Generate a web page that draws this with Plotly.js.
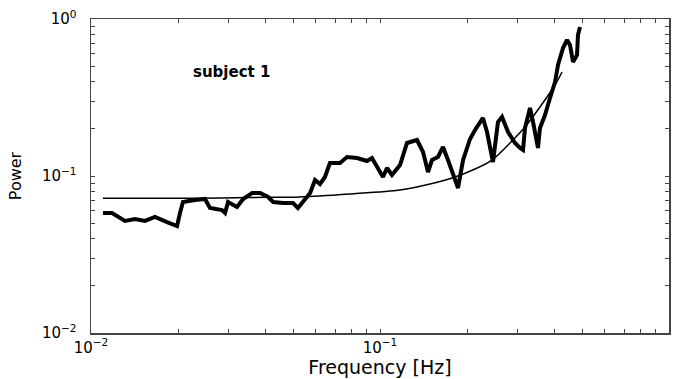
<!DOCTYPE html>
<html>
<head>
<meta charset="utf-8">
<script src="https://cdn.plot.ly/plotly-3.0.1.min.js"></script>
<style>html,body{margin:0;padding:0;background:#fff;}#chart{width:680px;height:379px;}</style>
</head>
<body>
<div id="chart"></div>
<script>
// Measured spectrum (thick line)
const freqMeasured = [0.0110,0.01182,0.01311,0.0142,0.01538,0.01665,0.01832,0.01985,0.02032,0.02081,0.0229,0.0248,0.02581,0.0284,0.0291,0.0298,0.0320,0.0336,0.0361,0.0385,0.0410,0.0427,0.0462,0.0500,0.0520,0.0542,0.0573,0.0596,0.0620,0.0645,0.0671,0.0727,0.0769,0.0833,0.0902,0.0938,0.0976,0.1024,0.1057,0.1100,0.1173,0.1240,0.1343,0.1409,0.1466,0.1513,0.1587,0.1652,0.1719,0.1788,0.1862,0.1938,0.2049,0.2132,0.2272,0.2346,0.2460,0.2560,0.2644,0.2774,0.2932,0.3051,0.3125,0.3175,0.3304,0.3384,0.3521,0.3577,0.3723,0.3875,0.4033,0.4130,0.4298,0.4438,0.4545,0.4655,0.4806,0.4842,0.4920];
const powerMeasured = [0.0581,0.0581,0.0517,0.0532,0.0517,0.0548,0.0509,0.0480,0.0581,0.0683,0.0703,0.0714,0.0626,0.0607,0.0581,0.0683,0.0635,0.0714,0.0779,0.0779,0.0735,0.0683,0.0673,0.0673,0.0626,0.0683,0.0779,0.0943,0.0889,0.0985,0.1210,0.1210,0.1321,0.1302,0.1246,0.1302,0.1141,0.0985,0.1124,0.1015,0.1175,0.1623,0.1696,0.1422,0.1060,0.1264,0.1321,0.1530,0.1264,0.1045,0.0839,0.1264,0.1721,0.1963,0.2342,0.1906,0.1228,0.2208,0.2376,0.1906,0.1623,0.1508,0.1464,0.2022,0.2711,0.2208,0.1508,0.2022,0.2446,0.3139,0.3970,0.5093,0.6534,0.7350,0.6833,0.5322,0.5898,0.7909,0.889];

// Fitted model spectrum (thin line)
const freqModel = [0.0110,0.02384,0.0355,0.0529,0.0787,0.1173,0.1489,0.1818,0.2132,0.2441,0.2818,0.3175,0.3577,0.4033,0.4265];
const powerModel = [0.0721,0.0721,0.0730,0.0735,0.0768,0.0814,0.0889,0.0985,0.1108,0.1264,0.1623,0.2051,0.2751,0.3799,0.4597];

// Log-axis ticks
const logTickVals = [0.01,0.02,0.03,0.04,0.05,0.06,0.07,0.08,0.09,0.1,0.2,0.3,0.4,0.5,0.6,0.7,0.8,0.9,1];
const logTickText = ['10<sup>−2</sup>','','','','','','','','','10<sup>−1</sup>','','','','','','','','','10<sup>0</sup>'];

const annotationText = 'subject 1';
const xTitle = 'Frequency [Hz]';
const yTitle = 'Power';

const FONT = 'DejaVu Sans, Arial, sans-serif';

const traces = [
  {x: freqModel, y: powerModel, type: 'scatter', mode: 'lines',
   line: {color: '#000', width: 1.5, shape: 'spline', smoothing: 0.8}, hoverinfo: 'skip'},
  {x: freqMeasured, y: powerMeasured, type: 'scatter', mode: 'lines',
   line: {color: '#000', width: 4, shape: 'linear'}, hoverinfo: 'skip'}
];

const axisCommon = {
  type: 'log', range: [-2, 0], tickmode: 'array',
  tickvals: logTickVals, ticktext: logTickText,
  ticks: 'inside', ticklen: 4, tickwidth: 1, tickcolor: '#444',
  showline: true, linecolor: '#444', linewidth: 1.5, mirror: 'ticks',
  showgrid: false, zeroline: false, automargin: false,
  tickfont: {family: FONT, size: 15, color: '#000'}
};

const layout = {
  width: 680, height: 379,
  margin: {l: 91, r: 11, t: 19, b: 46},
  paper_bgcolor: '#fff', plot_bgcolor: '#fff',
  showlegend: false,
  xaxis: Object.assign({}, axisCommon, {
    ticklabelstandoff: 0,
    title: {text: xTitle, font: {family: FONT, size: 19, color: '#000'}, standoff: 4}
  }),
  yaxis: Object.assign({}, axisCommon, {
    ticklabelstandoff: 10,
    title: {text: yTitle, font: {family: FONT, size: 16, color: '#000'}, standoff: 16}
  }),
  annotations: [{
    xref: 'paper', yref: 'paper', x: 0.173, y: 0.831,
    xanchor: 'left', yanchor: 'middle', showarrow: false,
    text: '<b>' + annotationText + '</b>',
    font: {family: FONT, size: 15, color: '#000'}
  }]
};

Plotly.newPlot('chart', traces, layout, {displayModeBar: false, staticPlot: true});
</script>
</body>
</html>
